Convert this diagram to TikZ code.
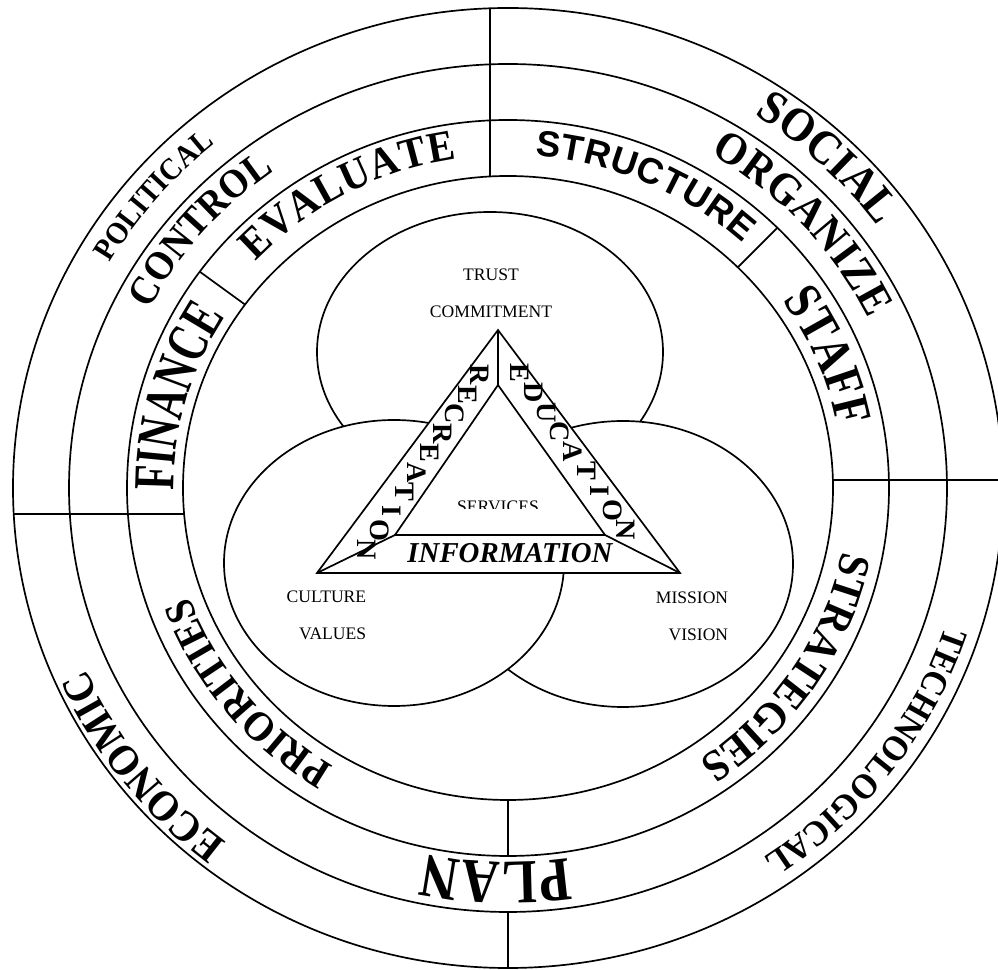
\documentclass[tikz,border=0pt]{standalone}
\usepackage{fontspec}
\setmainfont{Liberation Serif}
\newfontfamily\sanshead{Liberation Sans}
\newfontfamily\ringserif[FakeStretch=0.92]{Liberation Serif}
\newfontfamily\narrowserif[FakeStretch=0.83]{Liberation Serif}
\newfontfamily\tallserif[FakeStretch=0.70]{Liberation Serif}
\usetikzlibrary{positioning,decorations.text}
\newcommand\fsz[1]{\fontsize{#1}{#1}\selectfont}

\begin{document}
\begin{tikzpicture}[
    x=0.025cm, y=0.025cm, line width=1.2pt,
    lobe/.style={draw, fill=white},
    ringtext/.style={decorate, decoration={text along path, text align=fit to path, text={#1}}},
    lobetext/.style={font=\fsz{12.5}, inner sep=0pt},
    bandletter/.style={font=\bfseries\fsz{20}, rotate=-90, inner sep=0pt}
]
\useasboundingbox (-508,-482) rectangle (490,488);

\draw (0,0) ellipse [x radius=495, y radius=480];
\draw (0,0) ellipse [x radius=439, y radius=424];
\draw (0,0) ellipse [x radius=381, y radius=368];
\draw (0,0) ellipse [x radius=325, y radius=312];

\draw (-18,479.7) -- (-18,311.5);
\draw (0,-312) -- (0,-368) (0,-424) -- (0,-480);
\draw (-494.3,-26) -- (-323.9,-26);
\draw (324.9,8) -- (494.9,8);
\draw (144:381 and 368) -- (144:325 and 312);
\draw (45:381 and 368) -- (45:325 and 312);

\path[ringtext={|\ringserif\bfseries\fsz{22}|POLITICAL}] (149.7:461 and 446) arc[start angle=149.7, end angle=129.5, x radius=461, y radius=446];
\path[ringtext={|\ringserif\bfseries\fsz{28.8}|CONTROL}] (152.7:403.5 and 389.5) arc[start angle=152.7, end angle=125.5, x radius=403.5, y radius=389.5];
\path[ringtext={|\ringserif\bfseries\fsz{31}|EVALUATE}] (137:345.5 and 332.5) arc[start angle=137, end angle=98.6, x radius=345.5, y radius=332.5];
\path[ringtext={|\tallserif\bfseries\fsz{41.2}|FINANCE}] (180.5:334 and 321) arc[start angle=180.5, end angle=148.3, x radius=334, y radius=321];
\path[ringtext={|\ringserif\bfseries\fsz{33.7}|SOCIAL}] (57.4:458 and 443) arc[start angle=57.4, end angle=36.15, x radius=458, y radius=443];
\path[ringtext={|\ringserif\bfseries\fsz{32}|ORGANIZE}] (59.7:401 and 387) arc[start angle=59.7, end angle=26, x radius=401, y radius=387];
\path[ringtext={|\sanshead\bfseries\fsz{25.8}|STRUCTURE}] (85.5:346 and 333) arc[start angle=85.5, end angle=47.3, x radius=346, y radius=333];
\path[ringtext={|\narrowserif\bfseries\fsz{37.6}|STAFF}] (35.35:336 and 323) arc[start angle=35.35, end angle=11.3, x radius=336, y radius=323];
\path[ringtext={|\ringserif\bfseries\fsz{31.5}|STRATEGIES}] (-11.1:341 and 328) arc[start angle=-11.1, end angle=-56, x radius=341, y radius=328];
\path[ringtext={|\ringserif\bfseries\fsz{25.5}|TECHNOLOGICAL}] (-18.1:460 and 445) arc[start angle=-18.1, end angle=-56.3, x radius=460, y radius=445];
\path[ringtext={|\narrowserif\bfseries\fsz{44.5}|PLAN}] (-81:387.5 and 374.5) arc[start angle=-81, end angle=-102.4, x radius=387.5, y radius=374.5];
\path[ringtext={|\ringserif\bfseries\fsz{29.8}|PRIORITIES}] (238.9:338 and 325) arc[start angle=238.9, end angle=199.7, x radius=338, y radius=325];
\path[ringtext={|\ringserif\bfseries\fsz{30.5}|ECONOMIC}] (232.5:462 and 447) arc[start angle=232.5, end angle=204.1, x radius=462, y radius=447];

\draw[lobe] (-18,136) ellipse [x radius=173, y radius=140];
\draw[lobe] (115,-76) ellipse [x radius=170, y radius=143];
\draw[lobe] (-114,-75) ellipse [x radius=170, y radius=143];

\coordinate (apex) at (-10,158);
\coordinate (bl) at (-191,-85);
\coordinate (br) at (172,-85);
\coordinate (iapex) at (-10,103);
\coordinate (ibl) at (-113,-47);
\coordinate (ibr) at (97,-47);
\draw[fill=white] (apex) -- (bl) -- (br) -- cycle;
\draw (iapex) -- (ibl) -- (ibr) -- cycle;
\draw (apex) -- (iapex) (bl) -- (ibl) (br) -- (ibr);

\node[lobetext] (trust) at (-17,213) {TRUST};
\node[lobetext, below=5.9mm of trust] (commit) {COMMITMENT};
\node[lobetext, anchor=east] (culture) at (-141,-109) {CULTURE};
\node[lobetext, below=5.7mm of culture.south east, anchor=north east] (values) {VALUES};
\node[lobetext, anchor=east] (mission) at (221,-110) {MISSION};
\node[lobetext, below=5.9mm of mission.south east, anchor=north east] (vision) {VISION};

\begin{scope}
\clip (-60,-21) rectangle (40,0);
\node[lobetext, anchor=north] (services) at (-10,-12) {SERVICES};
\end{scope}
\node[font=\bfseries\itshape\fsz{20.5}] (info) at (2,-65) {INFORMATION};

\foreach \ch [count=\i from 0] in {R,E,C,R,E,A,T,I,O,N}
  \node[bandletter] (rec\i) at ({-28-12.56*\i},{113-19.44*\i}) {\ch};
\foreach \ch [count=\i from 0] in {E,D,U,C,A,T,I,O,N}
  \node[bandletter] (edu\i) at ({12+13.25*\i},{115-19.63*\i}) {\ch};
\end{tikzpicture}
\end{document}
